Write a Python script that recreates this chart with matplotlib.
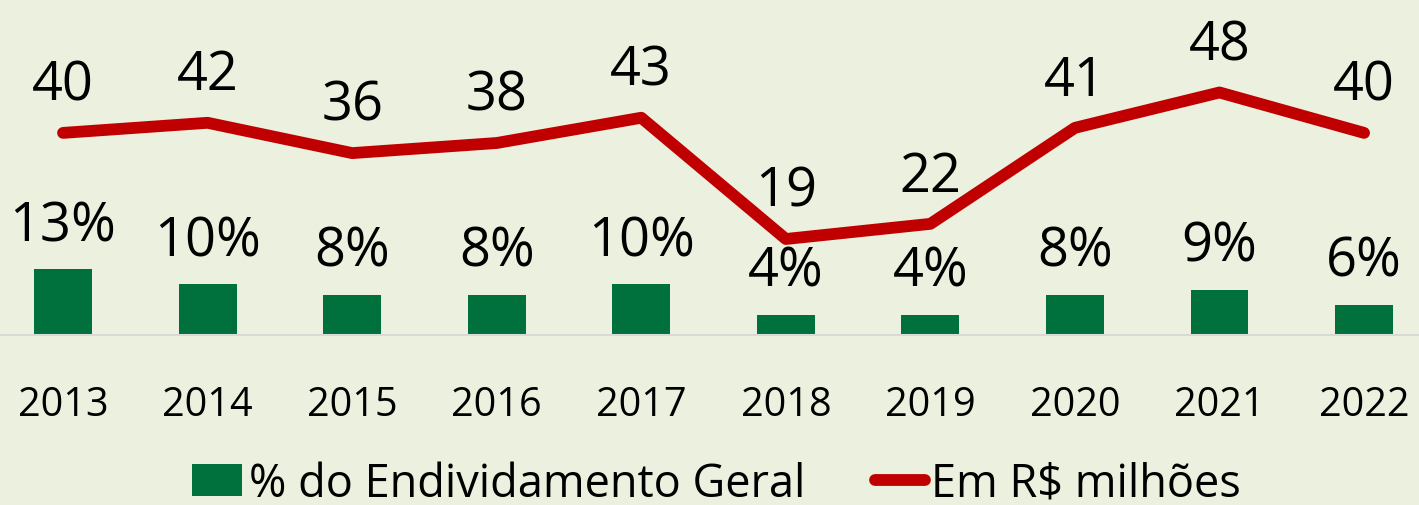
import matplotlib.pyplot as plt

plt.rcParams['font.family'] = ['Open Sans', 'DejaVu Sans']

anos = ["2013", "2014", "2015", "2016", "2017", "2018", "2019", "2020", "2021", "2022"]
pct_endividamento = [13, 10, 8, 8, 10, 4, 4, 8, 9, 6]
valor_milhoes = [40, 42, 36, 38, 43, 19, 22, 41, 48, 40]

fundo = "#EBF1DE"
verde = "#00703C"
vermelho = "#C00000"

fig = plt.figure(figsize=(14.19, 5.06), dpi=100, facecolor=fundo)
ax = fig.add_axes([0, 170 / 506, 1, 336 / 506])
ax.set_facecolor(fundo)

x = list(range(len(anos)))
barras = ax.bar(x, pct_endividamento, width=0.4, color=verde,
                label="% do Endividamento Geral", zorder=2)
linha, = ax.plot(x, valor_milhoes, color=vermelho, linewidth=8.5,
                 solid_capstyle="round", solid_joinstyle="round",
                 label="Em R$ milhões", zorder=3)

for xi, v in zip(x, pct_endividamento):
    ax.annotate(f"{v}%", (xi, v), xytext=(0, 21), textcoords="offset points",
                ha="center", va="baseline", fontsize=39, color="black")
for xi, v in zip(x, valor_milhoes):
    ax.annotate(f"{v}", (xi, v), xytext=(0, 24), textcoords="offset points",
                ha="center", va="baseline", fontsize=39, color="black")

ax.set_xlim(-0.436, 9.38)
ax.set_ylim(0, 66.5)
ax.set_xticks(x)
ax.set_xticklabels(anos, fontsize=28.5)
ax.tick_params(axis="x", length=0, pad=36)
ax.set_yticks([])
for lado in ["top", "left", "right"]:
    ax.spines[lado].set_visible(False)
ax.spines["bottom"].set_color("#D9D9D9")
ax.spines["bottom"].set_linewidth(1.5)

fig.legend(handles=[barras, linha], loc="center", bbox_to_anchor=(0.505, 0.042),
           ncol=2, frameon=False, fontsize=32.5, handlelength=1.1,
           handletextpad=0.15, columnspacing=1.55, borderaxespad=0)

fig.savefig("out.png", dpi=100, facecolor=fundo)
